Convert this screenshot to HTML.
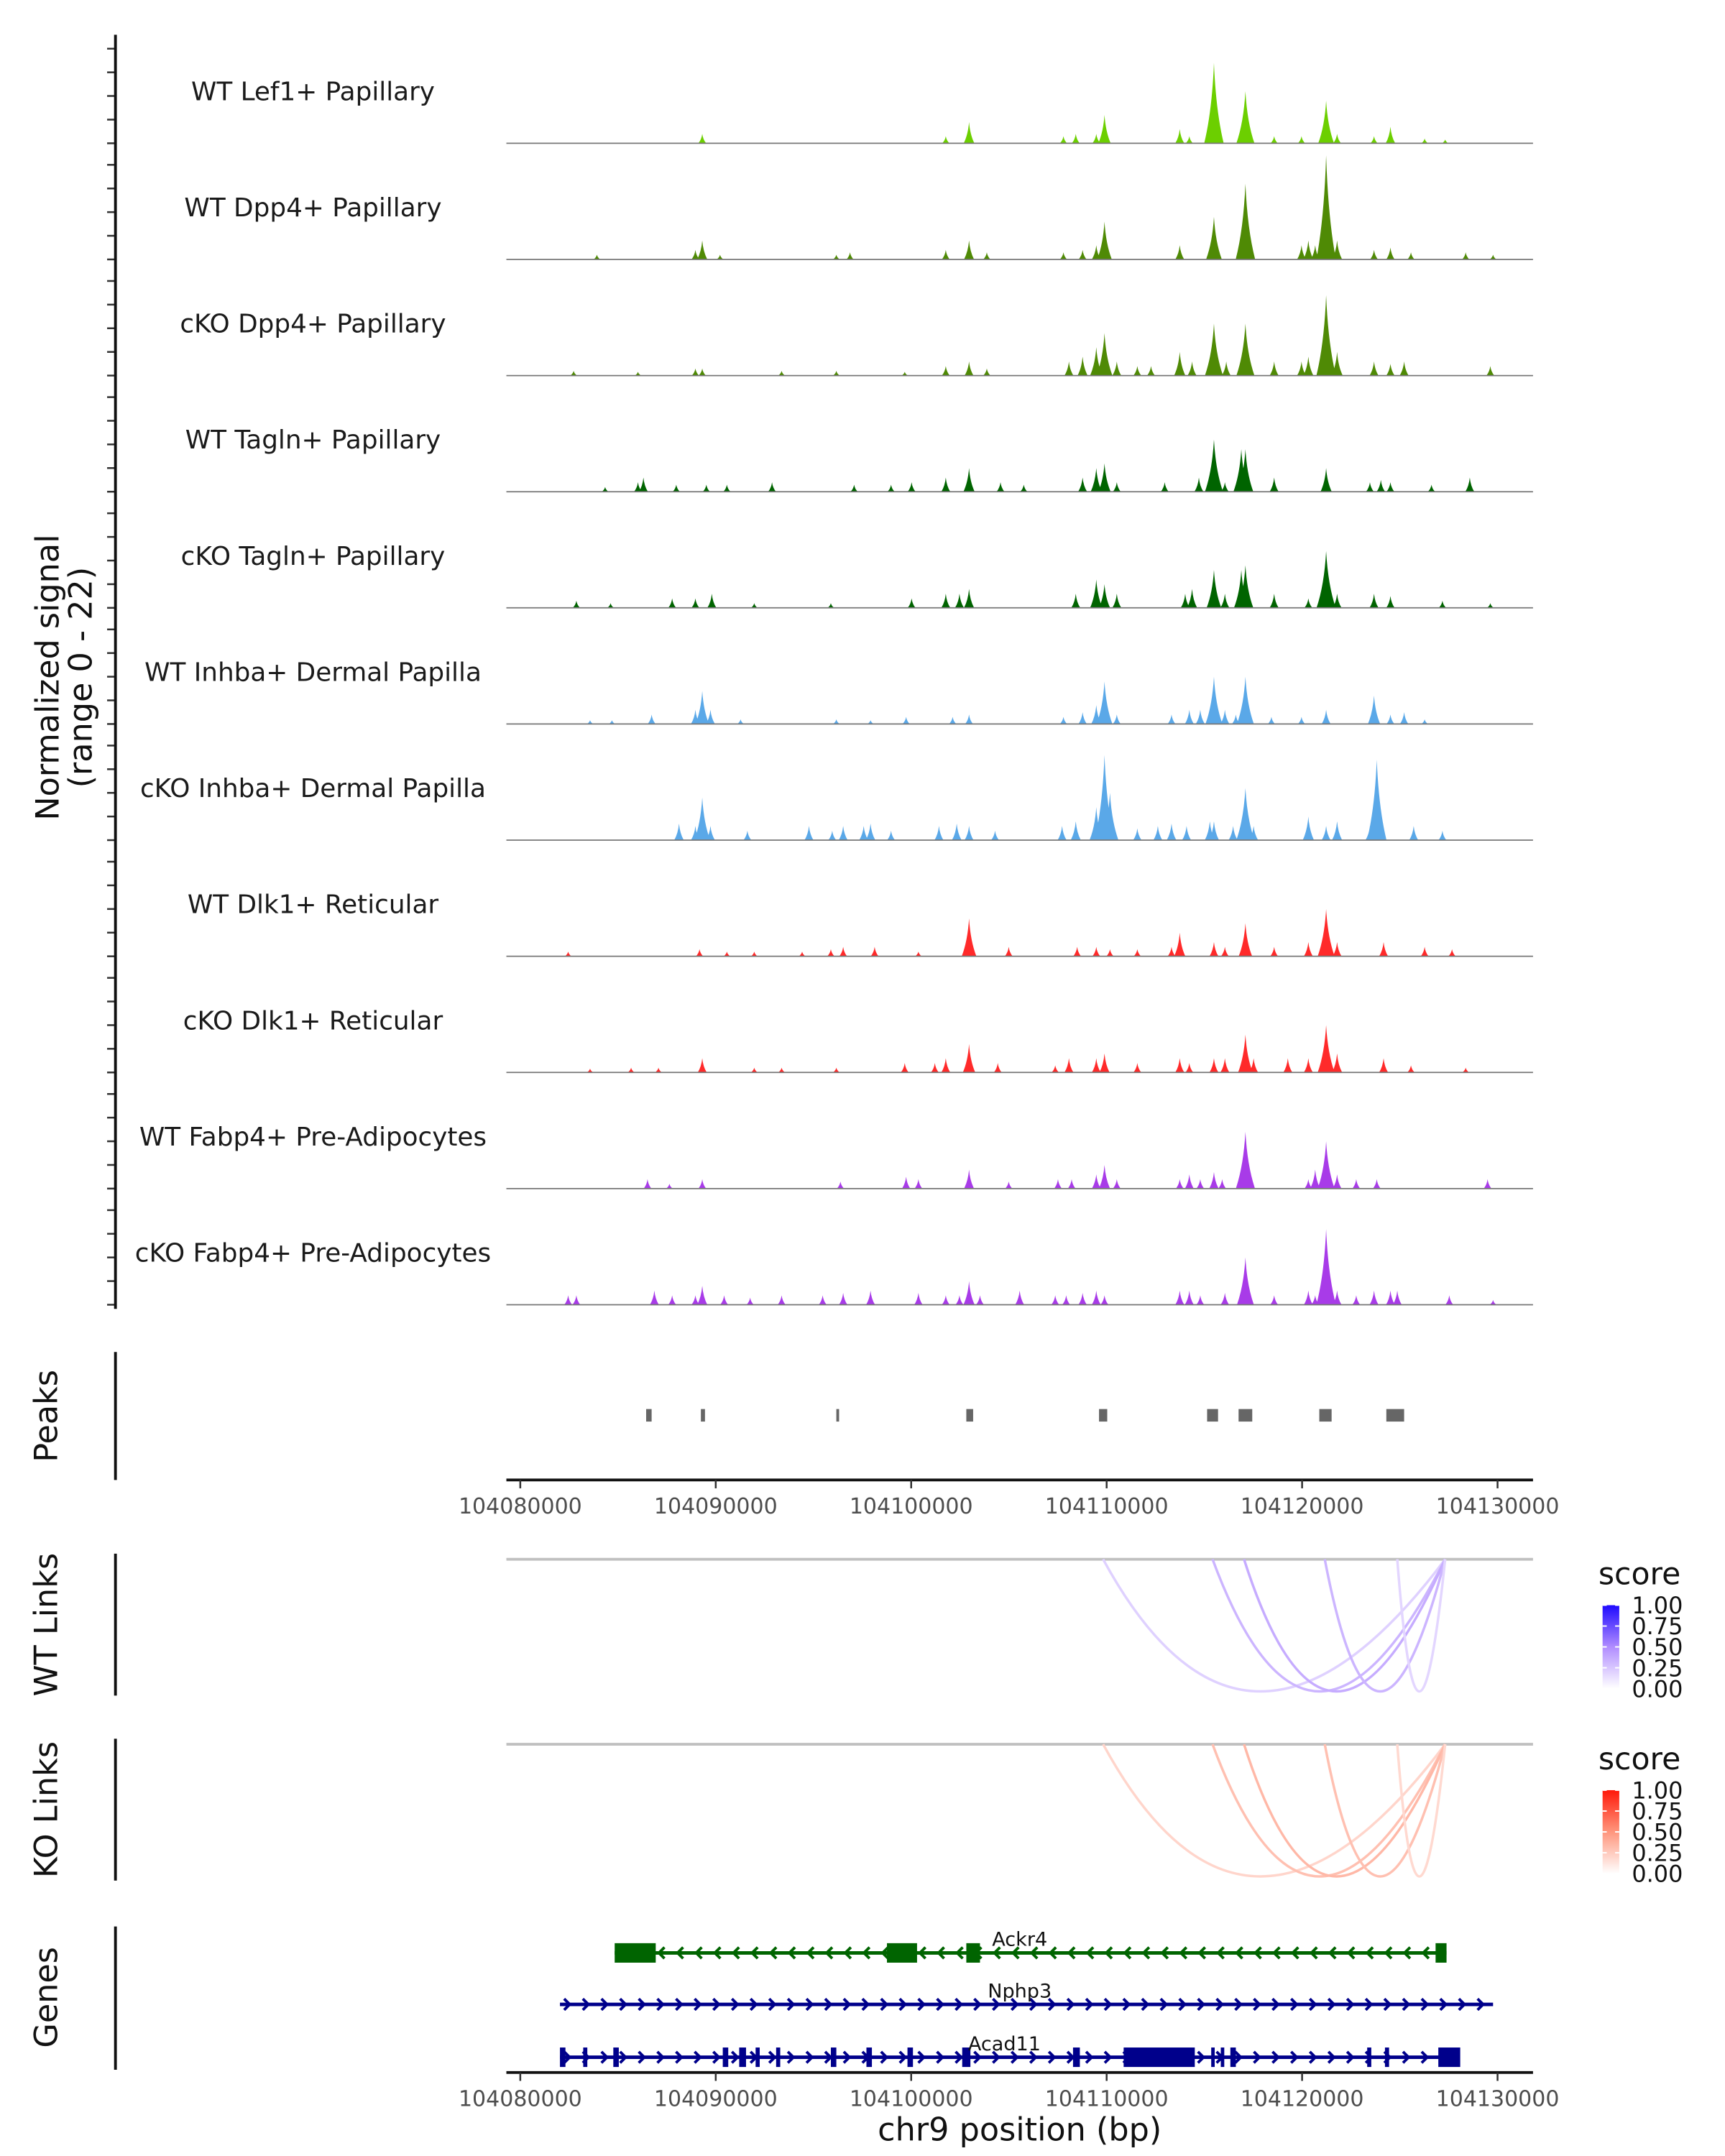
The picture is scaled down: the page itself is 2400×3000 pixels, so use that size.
<!DOCTYPE html>
<html><head><meta charset="utf-8">
<style>
html,body{margin:0;padding:0;background:#fff;}
svg{display:block;font-family:"DejaVu Sans","Liberation Sans",sans-serif;}
</style></head>
<body>
<svg id="chart" width="2400" height="3000" viewBox="0 0 1240 1550" xmlns="http://www.w3.org/2000/svg">
<rect width="1240" height="1550" fill="#fff"/>
<g id="tracks"></g>
<g id="peaks"></g>
<g id="links"></g>
<g id="genes"></g>
<g id="axes"></g>
</svg>
<script>
const regionStart = 104080000;
const xTicks = [104080000,104090000,104100000,104110000,104120000,104130000];
const trackNames = ["WT Lef1+ Papillary","WT Dpp4+ Papillary","cKO Dpp4+ Papillary","WT Tagln+ Papillary","cKO Tagln+ Papillary","WT Inhba+ Dermal Papilla","cKO Inhba+ Dermal Papilla","WT Dlk1+ Reticular","cKO Dlk1+ Reticular","WT Fabp4+ Pre-Adipocytes","cKO Fabp4+ Pre-Adipocytes"];
const trackColors = ["#6ccf00","#4f8a05","#4f8a05","#006400","#006400","#5aa8e8","#5aa8e8","#ff2a2a","#ff2a2a","#a83be8","#a83be8"];
// peak positions (kb offset from regionStart) and heights (normalized signal)
const lef1Kb = [9.31,21.77,22.96,27.79,28.42,29.47,29.89,33.74,34.23,35.49,37.1,38.57,39.97,41.23,41.79,43.68,44.52,46.27,47.32];
const lef1Val = [2,1.5,4.5,1.5,2,2,6,3,1.5,17,11,1.5,1.5,9,2,1.5,3.5,1,0.8];
const wtDppKb = [3.92,8.96,9.31,10.22,16.17,16.87,21.77,22.96,23.87,27.79,28.77,29.47,29.89,33.74,35.49,37.1,39.97,40.32,40.67,41.23,41.79,43.68,44.52,45.57,48.37,49.77];
const wtDppVal = [1,2,4,1,1,1.5,2,4,1.5,1.5,2,3,8,3,9,16,3,4,3,22,4,2,2.5,1.5,1.5,1];
const koDppKb = [2.73,6.02,8.96,9.31,13.37,16.17,19.67,21.77,22.96,23.87,28.07,28.77,29.47,29.89,30.52,31.57,32.27,33.74,34.37,35.49,36.12,37.1,38.57,39.97,40.32,41.23,41.79,43.68,44.52,45.22,49.63];
const koDppVal = [1,0.8,1.5,1.5,1,1,0.8,2,3,1.5,3,4,6,9,3,2,2,5,3,11,3,11,3,3,4,17,5,3,2.5,3,2];
const wtTagKb = [4.34,6.02,6.3,7.98,9.52,10.57,12.88,17.08,18.97,20.02,21.77,22.96,24.57,25.76,28.77,29.47,29.89,30.52,32.97,34.72,35.49,36.05,36.89,37.1,38.57,41.23,43.47,44.03,44.52,46.62,48.58];
const wtTagVal = [1,2,3,1.5,1.5,1.5,2,1.5,1.5,2,3,5,2,1.5,3,5,6,2,2,3,11,2,9,9,3,5,2,2.5,2,1.5,3];
const koTagKb = [2.87,4.62,7.77,8.96,9.8,11.97,15.89,20.02,21.77,22.47,22.96,28.42,29.47,29.89,30.52,34.02,34.37,35.49,36.05,36.89,37.1,38.57,40.32,41.23,41.79,43.68,44.52,47.18,49.63];
const koTagVal = [1.5,1,2,2,3,1,1,2,3,3,4,3,6,5,3,3,4,8,3,8,9,3,2,12,3,3,2.5,1.5,1];
const wtInhKb = [3.57,4.69,6.72,8.96,9.31,9.73,11.27,16.17,17.92,19.74,22.12,22.96,27.79,28.77,29.47,29.89,30.52,33.32,34.23,34.79,35.49,36.05,36.61,37.1,38.43,39.97,41.23,43.68,44.52,45.22,46.27];
const wtInhVal = [0.8,0.8,2,3,7,3,1,1,0.8,1.5,1.5,2,1.5,2.5,4,9,2,2,3,3,10,3,2,10,1.5,1.5,3,6,2,2.5,1];
const koInhKb = [8.12,8.96,9.31,9.73,11.62,14.77,15.96,16.52,17.57,17.92,18.97,21.42,22.33,22.96,24.29,27.72,28.42,29.47,29.89,30.17,31.57,32.62,33.32,34.09,35.28,35.49,36.47,37.1,37.52,40.32,41.23,41.79,43.47,43.82,45.71,47.18];
const koInhVal = [3.5,3,9,3,2,3,2,3,3,3.5,2,3,3.5,3,2,3,4,7,18,10,2.5,3,3.5,3,4,4,3,11,3,5,3,4,3,17,3,2];
const wtDlkKb = [2.45,9.17,10.57,11.97,14.42,15.89,16.52,18.13,20.37,22.96,24.99,28.49,29.47,30.17,31.57,33.32,33.74,35.49,36.05,37.1,38.57,40.32,41.23,41.79,44.17,46.27,47.67];
const wtDlkVal = [1,1.5,1,1,1,1.5,2,2,1,8,2,2,2,1.5,1.5,2,5,3,2,7,2,3,10,3,3,2,1.5];
const koDlkKb = [3.57,5.67,7.07,9.31,11.97,13.37,16.17,19.67,21.21,21.77,22.96,24.43,27.37,28.07,29.47,29.89,31.57,33.74,34.23,35.49,36.05,37.1,37.52,39.27,40.32,41.23,41.79,44.17,45.57,48.37];
const koDlkVal = [0.8,1,1,3,1,1,1,2,2,3,6,2,1.5,3,3,4,2,3,2,3,3,8,3,3,3,10,4,3,1.5,1];
const wtFabKb = [6.51,7.63,9.31,16.38,19.74,20.37,22.96,24.99,27.51,28.21,29.47,29.89,30.52,33.74,34.23,34.79,35.49,35.91,37.1,40.32,40.67,41.23,41.79,42.77,43.82,49.49];
const wtFabVal = [2,1,2,1.5,2.5,2,4,1.5,2,2,3,5,2,2,3,2,3.5,2,12,2,4,10,3,2,2,2];
const koFabKb = [2.45,2.87,6.86,7.77,8.96,9.31,10.43,11.76,13.37,15.47,16.52,17.92,20.37,21.77,22.47,22.96,23.52,25.55,27.37,27.93,28.77,29.47,29.89,33.74,34.23,34.79,36.05,37.1,38.57,40.32,40.67,41.23,41.79,42.77,43.68,44.52,44.87,47.53,49.77];
const koFabVal = [2,2,3,2,2,4,2,1.5,2,2,2.5,3,2.5,2,2,5,2,3,2,2,2.5,3,2,3,3,2,2.5,10,2,3,2,16,3,2,3,3,3,2,1];
const trackKb = [lef1Kb,wtDppKb,koDppKb,wtTagKb,koTagKb,wtInhKb,koInhKb,wtDlkKb,koDlkKb,wtFabKb,koFabKb];
const trackVal = [lef1Val,wtDppVal,koDppVal,wtTagVal,koTagVal,wtInhVal,koInhVal,wtDlkVal,koDlkVal,wtFabVal,koFabVal];
const peakStartKb = [6.44,9.24,16.17,22.82,29.61,35.14,36.75,40.88,44.31];
const peakEndKb = [6.72,9.45,16.31,23.17,30.03,35.7,37.45,41.51,45.22];
const linkAnchorKb = 47.32;
const wtLinkKb = [29.82,35.42,37.03,41.16,44.87];
const wtLinkScore = [0.2,0.32,0.36,0.32,0.18];
const koLinkKb = [29.82,35.42,37.03,41.16,44.87];
const koLinkScore = [0.2,0.3,0.34,0.3,0.18];
const legendTicks = ["0.00","0.25","0.50","0.75","1.00"];
const ackr4ExonStart = [4.83,18.76,22.82,46.83];
const ackr4ExonEnd = [6.93,20.3,23.52,47.39];
const acad11ExonStart = [2.03,3.22,4.76,10.36,11.2,12.04,13.09,15.89,17.71,19.81,22.61,28.28,30.87,35.35,35.84,36.33,43.33,44.24,46.97];
const acad11ExonEnd = [2.31,3.43,5.04,10.64,11.55,12.25,13.3,16.17,17.99,20.09,23.03,28.63,34.51,35.49,35.98,36.61,43.54,44.45,48.09];

const NS = "http://www.w3.org/2000/svg";
const X0 = 374, pxPerKb = 14.05, XL = 364, XR = 1102;
function xs(kb){ return X0 + kb*pxPerKb; }
function bpToKb(bp){ return (bp-regionStart)/1000; }
const UNIT = 3.4;
function mk(tag, attrs, parent, text){
  const e = document.createElementNS(NS, tag);
  for (const k in attrs) e.setAttribute(k, attrs[k]);
  if (text !== undefined) e.textContent = text;
  parent.appendChild(e);
  return e;
}
const gT = document.getElementById('tracks');
const gA = document.getElementById('axes');

let ax = mk('line',{x1:83,y1:25,x2:83,y2:941,stroke:'#111','stroke-width':2},gA);


let yl = mk('text',{x:0,y:0,'font-size':23,'text-anchor':'middle',fill:'#111',transform:'translate(42,487) rotate(-90)'},gA,'Normalized signal');


let yl2 = mk('text',{x:0,y:0,'font-size':23,'text-anchor':'middle',fill:'#111',transform:'translate(66,487) rotate(-90)'},gA,'(range 0 - 22)');



for (let i=0;i<trackNames.length;i++){
  const base = 103 + i*83.5;
  const g = mk('g',{},gT);
  
  
  for (let k=0;k<5;k++){
    const t = mk('line',{x1:77,x2:83,y1:base-k*17,y2:base-k*17,stroke:'#333','stroke-width':1.3},g);
    
    
  }
  const lab = mk('text',{x:225,y:base-31,'font-size':18.5,'text-anchor':'middle',fill:'#1a1a1a'},g,trackNames[i]);
  
  
  let d = '';
  const kbs = trackKb[i], vals = trackVal[i];
  for (let j=0;j<kbs.length;j++){
    const x = xs(kbs[j]), h = vals[j]*UNIT;
    const hw = Math.min(2 + h*0.12, 7);
    d += `M${x-hw},${base} Q${x-hw*0.2},${base-h*0.4} ${x},${base-h} Q${x+hw*0.2},${base-h*0.4} ${x+hw},${base} Z `;
  }
  const p = mk('path',{d:d,fill:trackColors[i]},g);
  
  
  const bl = mk('line',{x1:XL,x2:XR,y1:base,y2:base,stroke:'#777','stroke-width':0.9},g);
  
  
}

const gP = document.getElementById('peaks');
let pl = mk('line',{x1:83,y1:972,x2:83,y2:1064,stroke:'#111','stroke-width':2},gP);


let pt = mk('text',{x:0,y:0,'font-size':23,'text-anchor':'middle',fill:'#111',transform:'translate(41,1018) rotate(-90)'},gP,'Peaks');


for (let i=0;i<peakStartKb.length;i++){
  const x = xs(peakStartKb[i]), w = Math.max(xs(peakEndKb[i])-x,2);
  const r = mk('rect',{x:x,y:1013,width:w,height:9,fill:'#666'},gP);
  
  
}
function xAxis(y, parent, nm){
  const l = mk('line',{x1:XL,x2:XR,y1:y,y2:y,stroke:'#111','stroke-width':2},parent);
  
  
  for (const t of xTicks){
    const x = xs(bpToKb(t));
    const tk = mk('line',{x1:x,x2:x,y1:y,y2:y+6,stroke:'#333','stroke-width':1.3},parent);
    
    
    const tl = mk('text',{x:x,y:y+24,'font-size':15.5,'text-anchor':'middle',fill:'#4d4d4d'},parent,String(t));
    
    
  }
}
xAxis(1064,gP,'peaks-x-axis');

const gL = document.getElementById('links');
function mix(a,b,t){ return a.map((v,k)=>Math.round(v+(b[k]-v)*t)); }
function scoreColor(s, mid, hi){
  const c = s<0.5 ? mix([255,255,255],mid,s/0.5) : mix(mid,hi,(s-0.5)/0.5);
  return `rgb(${c.join(',')})`;
}
function linkTrack(top, kbs, scores, mid, hi, title, nm){
  const g = mk('g',{},gL);
  
  
  const al = mk('line',{x1:83,y1:top-4,x2:83,y2:top+98,stroke:'#111','stroke-width':2},g);
  
  
  const tt = mk('text',{x:0,y:0,'font-size':23,'text-anchor':'middle',fill:'#111',transform:`translate(41,${top+47}) rotate(-90)`},g,title);
  
  
  const bl = mk('line',{x1:XL,x2:XR,y1:top,y2:top,stroke:'#c0c0c0','stroke-width':2},g);
  
  
  const xe = xs(linkAnchorKb);
  for (let i=0;i<kbs.length;i++){
    const xb = xs(kbs[i]);
    const cx = (xb+xe)/2 - 0.08*(xe-xb);
    const a = mk('path',{d:`M${xb},${top} Q${cx},${top+190} ${xe},${top}`,fill:'none',stroke:scoreColor(scores[i],mid,hi),'stroke-width':1.8},g);
    
    
  }
  const lg = mk('g',{},g);
  
  
  const lt = mk('text',{x:1149,y:top+18,'font-size':22,fill:'#111'},lg,'score');
  
  
  const gid = 'grad'+nm;
  const defs = mk('defs',{},lg);
  const gr = mk('linearGradient',{id:gid,x1:0,y1:1,x2:0,y2:0},defs);
  mk('stop',{offset:0,'stop-color':'#fff'},gr);
  mk('stop',{offset:0.5,'stop-color':`rgb(${mid.join(',')})`},gr);
  mk('stop',{offset:1,'stop-color':`rgb(${hi.join(',')})`},gr);
  const cb = mk('rect',{x:1152,y:top+33,width:12,height:60,fill:`url(#${gid})`},lg);
  
  
  for (let k=0;k<legendTicks.length;k++){
    const y = top+93-k*15;
    const tl = mk('text',{x:1173,y:y+6,'font-size':16.5,fill:'#111'},lg,legendTicks[k]);
    
    
    mk('line',{x1:1152,x2:1155,y1:y,y2:y,stroke:'#fff','stroke-width':1},lg);
    mk('line',{x1:1161,x2:1164,y1:y,y2:y,stroke:'#fff','stroke-width':1},lg);
  }
}
linkTrack(1121, wtLinkKb, wtLinkScore, [176,140,255], [30,10,255], 'WT Links', 'wt-links');
linkTrack(1254, koLinkKb, koLinkScore, [255,150,125], [255,25,10], 'KO Links', 'ko-links');

const gG = document.getElementById('genes');
let gl = mk('line',{x1:83,y1:1385,x2:83,y2:1488,stroke:'#111','stroke-width':2},gG);


let gtt = mk('text',{x:0,y:0,'font-size':23,'text-anchor':'middle',fill:'#111',transform:'translate(41,1436) rotate(-90)'},gG,'Genes');


function gene(name, y, startKb, endKb, exS, exE, color, dir, labelX, nm){
  const g = mk('g',{},gG);
  
  
  const x1 = xs(startKb), x2 = xs(endKb);
  mk('line',{x1:x1,x2:x2,y1:y,y2:y,stroke:color,'stroke-width':2.5},g);
  let d='';
  for (let x=x1+6; x<x2-3; x+=13.4){
    d += dir>0 ? `M${x-3},${y-4} L${x+1},${y} L${x-3},${y+4} ` : `M${x+3},${y-4} L${x-1},${y} L${x+3},${y+4} `;
  }
  mk('path',{d:d,fill:'none',stroke:color,'stroke-width':2},g);
  for (let i=0;i<exS.length;i++){
    const ex = xs(exS[i]), w = Math.max(xs(exE[i])-ex,2.5);
    const r = mk('rect',{x:ex,y:y-7,width:w,height:14,fill:color},g);
    
    
  }
  const t = mk('text',{x:labelX,y:y-5,'font-size':14,'text-anchor':'middle',fill:'#111'},g,name);
  
  
}
gene('Ackr4',1404,4.83,47.39,ackr4ExonStart,ackr4ExonEnd,'#006400',-1,733,'gene-ackr4');
gene('Nphp3',1441,2.03,49.77,[],[],'#00008b',1,733,'gene-nphp3');
gene('Acad11',1479,2.03,48.02,acad11ExonStart,acad11ExonEnd,'#00008b',1,722,'gene-acad11');
xAxis(1490,gG,'genes-x-axis');
let xt = mk('text',{x:733,y:1539,'font-size':23,'text-anchor':'middle',fill:'#111'},gG,'chr9 position (bp)');


</script>
</body></html>
